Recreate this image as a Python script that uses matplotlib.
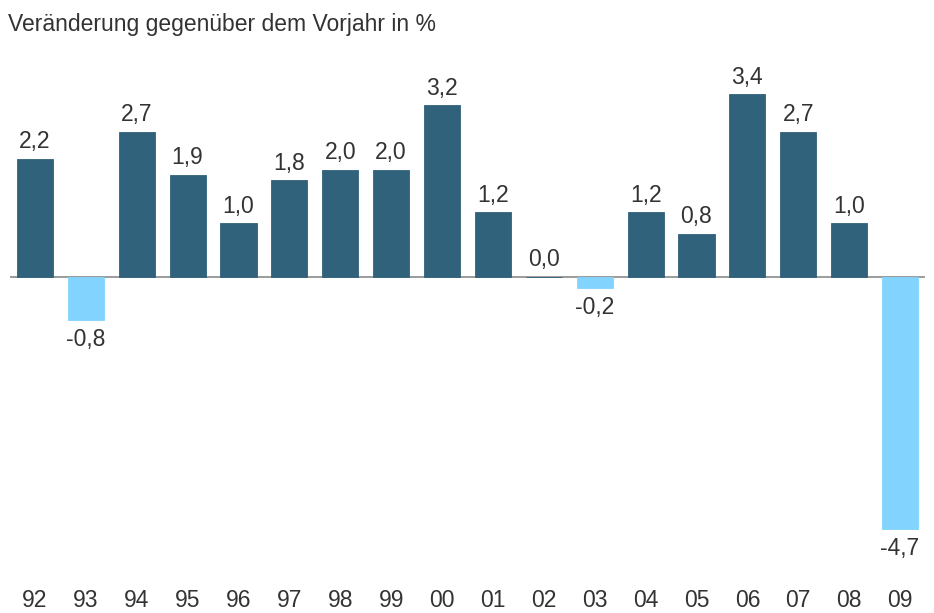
import matplotlib.pyplot as plt

# Jahre und Veränderung gegenüber dem Vorjahr in %
years = ['92', '93', '94', '95', '96', '97', '98', '99', '00',
         '01', '02', '03', '04', '05', '06', '07', '08', '09']
values = [2.2, -0.8, 2.7, 1.9, 1.0, 1.8, 2.0, 2.0, 3.2,
          1.2, 0.0, -0.2, 1.2, 0.8, 3.4, 2.7, 1.0, -4.7]

dark = '#30627b'
light = '#82d3fd'
text_color = '#333333'

plt.rcParams['font.family'] = ['Liberation Sans', 'DejaVu Sans']

fig = plt.figure(figsize=(9.34, 6.13), dpi=100)
# axes placed in pixel terms: x from 9.5 to 925.5, y from 73 (top) to 545 (bottom)
ax = fig.add_axes([9.5 / 934, 1 - 545 / 613, 916 / 934, 472 / 613])

x = list(range(len(years)))
colors = [dark if v >= 0 else light for v in values]
ax.bar(x, values, width=0.71, color=colors, edgecolor=colors, linewidth=0.6, zorder=3)
ax.axhline(0, color='#8a8a8a', linewidth=1.2, zorder=2)

for xi, v in zip(x, values):
    label = f'{v:.1f}'.replace('.', ',')
    if v >= 0:
        ax.annotate(label, (xi, v), xytext=(0, 4), textcoords='offset points',
                    ha='center', va='bottom', fontsize=16.5, color=text_color)
    else:
        ax.annotate(label, (xi, v), xytext=(0, -6), textcoords='offset points',
                    ha='center', va='top', fontsize=16.5, color=text_color)

ax.set_xlim(-0.5, len(years) - 0.5)
ax.set_ylim(-5.0, 3.8)
ax.set_xticks(x)
ax.set_xticklabels(years, fontsize=16.5, color=text_color)
ax.tick_params(axis='x', length=0, pad=32)
ax.set_yticks([])
for s in ax.spines.values():
    s.set_visible(False)

fig.text(8 / 934, 1 - 24 / 613, 'Veränderung gegenüber dem Vorjahr in %',
         fontsize=16.5, color=text_color, ha='left', va='center')

fig.savefig('out.png', dpi=100)
